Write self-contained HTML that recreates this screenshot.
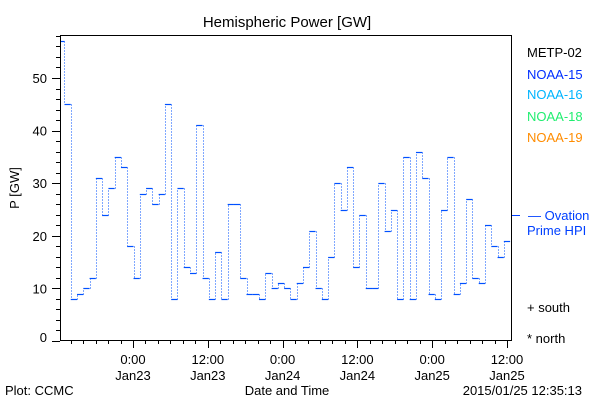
<!DOCTYPE html>
<html><head><meta charset="utf-8"><style>
body{margin:0;background:#fff;width:600px;height:400px;overflow:hidden}
svg text{font-family:"Liberation Sans",sans-serif;font-size:13px}
</style></head><body>
<svg width="600" height="400">
<defs><clipPath id="pc"><rect x="61" y="35" width="451" height="306"/></clipPath></defs>
<text x="287" y="27" text-anchor="middle" style="font-size:15px">Hemispheric Power [GW]</text>
<rect x="60.5" y="35.5" width="451" height="305" fill="none" stroke="#000"/>
<g id="yaxis"></g>
<g id="xaxis"></g>
<g id="series" clip-path="url(#pc)"></g>
<text transform="translate(19,188) rotate(-90)" text-anchor="middle">P [GW]</text>
<text x="527" y="57" fill="#000">METP-02</text>
<text x="527" y="79" fill="#0030ff">NOAA-15</text>
<text x="527" y="99" fill="#00b4ff">NOAA-16</text>
<text x="527" y="121" fill="#20ee70">NOAA-18</text>
<text x="527" y="142" fill="#ff8c00">NOAA-19</text>
<line x1="512" y1="215.5" x2="520" y2="215.5" stroke="#0040ff"/>
<text x="528" y="220" fill="#0040ff">— Ovation</text>
<text x="527" y="235" fill="#0040ff">Prime HPI</text>
<text x="527" y="312">+ south</text>
<text x="527" y="343">* north</text>
<text x="5" y="395">Plot: CCMC</text>
<text x="287" y="395" text-anchor="middle">Date and Time</text>
<text x="582" y="395" text-anchor="end">2015/01/25 12:35:13</text>
</svg>
<script>
const values=[57,45,8,9,10,12,31,24,29,35,33,18,12,28,29,26,28,45,8,29,14,13,41,12,8,17,8,26,26,12,9,9,8,13,10,11,10,8,11,14,21,10,8,16,30,25,33,14,24,10,10,30,21,25,8,35,8,36,31,9,8,25,35,9,11,27,12,11,22,18,16,19];
const startHour=-12.0; // hours relative to Jan23 00:00
const stepHours=1.007;
const yTicks=[0,10,20,30,40,50];
const xTickHours=[0,12,24,36,48,60];
const xTickTimes=["0:00","12:00","0:00","12:00","0:00","12:00"];
const xTickDates=["Jan23","Jan23","Jan24","Jan24","Jan25","Jan25"];
const NS="http://www.w3.org/2000/svg";
const y=v=>341-5.26*v;
const x=h=>133+6.233*h;
function mk(t,a,p){const e=document.createElementNS(NS,t);for(const k in a)e.setAttribute(k,a[k]);p.appendChild(e);return e;}
const ya=document.getElementById('yaxis');
for(let v=0;v<=58;v+=2){const yy=Math.round(y(v))+0.5;const l=mk('line',{x1:v%10==0?52:56,x2:60,y1:yy,y2:yy,stroke:'#000'},ya);

}
yTicks.forEach(v=>{const t=mk('text',{x:47,y:Math.min(y(v)+5,342),'text-anchor':'end'},ya);t.textContent=v;

});
const xa=document.getElementById('xaxis');
for(let h=-10;h<=62;h+=2){const xx=Math.round(x(h))+0.5;if(xx>512)break;const l=mk('line',{x1:xx,x2:xx,y1:341,y2:h%12==0?348:344,stroke:'#000'},xa);

}
xTickHours.forEach((h,i)=>{const t=mk('text',{x:x(h),y:364,'text-anchor':'middle'},xa);t.textContent=xTickTimes[i];


const d=mk('text',{x:x(h),y:380,'text-anchor':'middle'},xa);d.textContent=xTickDates[i];

});
const s=document.getElementById('series');
values.forEach((v,i)=>{const x1=x(startHour+i*stepHours),x2=x(startHour+(i+1)*stepHours),yy=Math.round(y(v))+0.5;
const h=mk('line',{x1:x1,x2:x2,y1:yy,y2:yy,stroke:'#0050ff','stroke-width':1.2},s);


if(i<values.length-1){const y2=Math.round(y(values[i+1]))+0.5;const xv=Math.round(x2)+0.5;
const vl=mk('line',{x1:xv,x2:xv,y1:yy,y2:y2,stroke:'#0050ff','stroke-dasharray':'1 2'},s);

}});
</script>
</body></html>
